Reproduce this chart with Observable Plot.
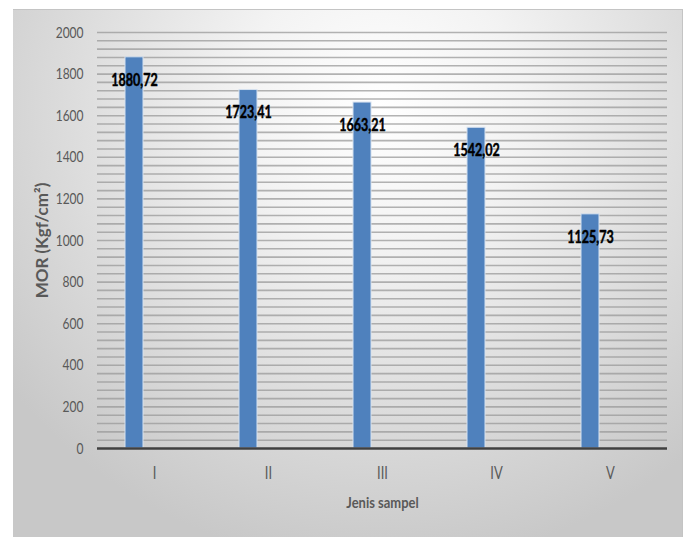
<!DOCTYPE html>
<html>
<head>
<meta charset="utf-8">
<script src="https://cdn.jsdelivr.net/npm/d3@7"></script>
<script src="https://cdn.jsdelivr.net/npm/@observablehq/plot@0.6"></script>
<style>
  html, body { margin: 0; padding: 0; background: #ffffff; }
  #wrap { position: relative; width: 687px; height: 537px; overflow: hidden; }
  #panel {
    position: absolute; left: 13px; top: 9px; width: 669px; height: 540px;
    border-top: 1px solid #c4c4c4; border-right: 1px solid #c4c4c4;
    background: radial-gradient(ellipse 70% 85% at 55% 18%, #ffffff 0%, #f3f3f3 30%, #dadada 70%, #c8c8c8 100%);
  }
  #chart { position: absolute; left: 0; top: 0; }
  #chart svg { background: transparent !important; }
</style>
</head>
<body>
<div id="wrap"><div id="panel"></div><div id="chart"></div></div>
<script>
// Sample groups and their modulus of rupture (MOR, kgf/cm²)
const samples = ["I", "II", "III", "IV", "V"];
const morValues = [1880.72, 1723.41, 1663.21, 1542.02, 1125.73];
const yTicks = [0, 200, 400, 600, 800, 1000, 1200, 1400, 1600, 1800, 2000];

const data = samples.map((s, i) => ({sample: s, mor: morValues[i]}));

// Decimal comma, two decimals
const fmt = d3.formatLocale({decimal: ",", thousands: ".", grouping: [3], currency: ["", ""]}).format(".2f");

const font = "Lato, 'Open Sans', sans-serif";
const gridLines = d3.range(40, 2001, 40);

const chart = Plot.plot({
  width: 687,
  height: 537,
  marginLeft: 97,
  marginRight: 20,
  marginTop: 32,
  marginBottom: 89,
  style: {fontFamily: font, fontSize: "16px", color: "#595959", background: "transparent"},
  x: {domain: samples, padding: 0, label: null},
  y: {domain: [0, 2000], label: null},
  marks: [
    Plot.ruleY(gridLines, {stroke: "#9a9a9a", strokeOpacity: 0.75, strokeWidth: 1.6}),
    Plot.barY(data, {x: "sample", y: "mor", fill: "#4f81bd", stroke: "#d6e1ef", strokeWidth: 1, insetLeft: 28, insetRight: 68}),
    Plot.ruleY([0], {stroke: "#404040", strokeWidth: 2.5}),
    Plot.axisY({ticks: yTicks, tickSize: 0, tickPadding: 14, tickFormat: d => String(d), fill: "#595959", fontSize: 16}),
    Plot.axisX({tickSize: 0, tickPadding: 18, fill: "#595959", fontSize: 18}),
    Plot.text(data, {x: "sample", y: "mor", text: d => fmt(d.mor), dx: -20, dy: 23,
      fill: "#000000", stroke: "#000000", strokeWidth: 0.45, fontWeight: "bold", fontSize: 16.5}),
    Plot.text(["Jenis sampel"], {frameAnchor: "bottom", lineAnchor: "middle", dy: 54, fontWeight: "bold", fontSize: 16, fill: "#595959"}),
    Plot.text(["MOR (Kgf/cm²)"], {frameAnchor: "left", textAnchor: "middle", lineAnchor: "middle", dx: -55, rotate: -90,
      fontWeight: "bold", fontSize: 17, fill: "#595959"})
  ]
});

document.getElementById("chart").appendChild(chart);

// Narrow the lettering (condensed look) without moving its anchor
function condense(node, k) {
  const w = node.getComputedTextLength();
  node.setAttribute("textLength", (w * k).toFixed(2));
  node.setAttribute("lengthAdjust", "spacingAndGlyphs");
}
const svg = d3.select(chart);
svg.selectAll('g[aria-label="y-axis tick label"] text').each(function () { condense(this, 0.75); });
svg.selectAll('g[aria-label="x-axis tick label"] text').each(function () { condense(this, 0.72); });
svg.selectAll('g[aria-label="text"] text').each(function () {
  const s = this.textContent;
  if (s === "Jenis sampel") condense(this, 0.81);
  else if (!s.startsWith("MOR")) condense(this, 0.76);
});
</script>
</body>
</html>
